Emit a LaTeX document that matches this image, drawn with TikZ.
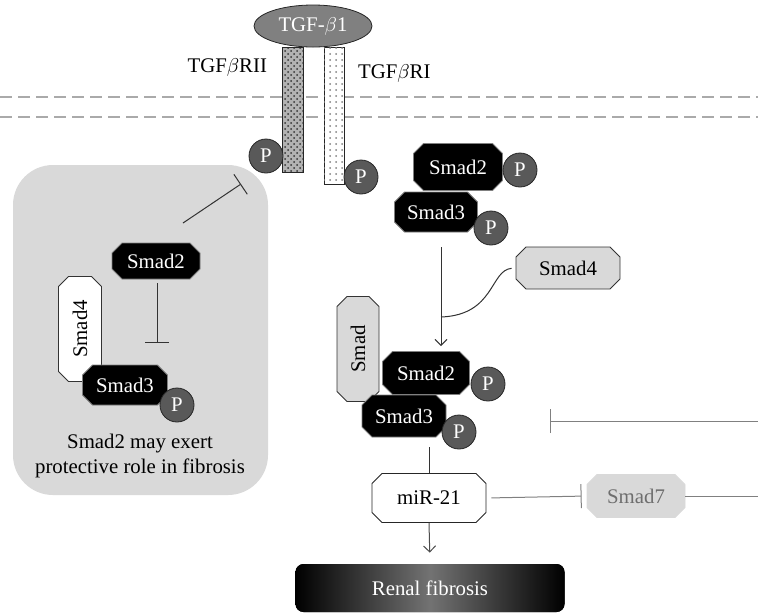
\documentclass[tikz,border=0pt]{standalone}
\usepackage{fontspec}
\setmainfont{Liberation Serif}
\usetikzlibrary{positioning, calc, arrows.meta, shapes.geometric, shapes.misc, patterns}
\definecolor{boxgray}{RGB}{217,217,217}
\definecolor{phosgray}{RGB}{89,89,89}
\definecolor{ligandgray}{RGB}{128,128,128}
\definecolor{dashgray}{RGB}{170,170,170}
\definecolor{fadedtext}{RGB}{110,110,110}
\tikzset{
    smadnode/.style={
        chamfered rectangle, chamfered rectangle xsep=2.5pt, chamfered rectangle ysep=2.5pt,
        chamfered rectangle angle=45, inner sep=0pt, anchor=center
    },
    darksmad/.style={
        smadnode, fill=black, draw=gray, text=white
    },
    lightsmad/.style={
        smadnode, fill=boxgray, draw=black!80
    },
    phos/.style={
        circle, fill=phosgray, draw=black!85, text=white, minimum size=17pt, inner sep=0pt
    },
    link/.style={
        line width=0.5pt, draw=black!80
    }
}

\begin{document}
\begin{tikzpicture}[
        x=0.5pt, y=-0.5pt,
        every node/.style={font=\fontsize{10.4}{12.5}\selectfont},
        % --- STYLE ---
        act/.style={link, -{Straight Barb[length=3pt, width=6pt]}},
        inh/.style={link, -{Bar[width=12pt]}},
        receptor/.style={draw=black!85, line width=0.5pt, inner sep=0pt}
    ]
        \useasboundingbox (0,0) rectangle (758,612);

        % --- 1. MEMBRANE AND RECEPTORS ---
        \draw[dashgray, line width=0.6pt, dash pattern=on 6pt off 3pt] (0,97) -- (758,97);
        \draw[dashgray, line width=0.6pt, dash pattern=on 6pt off 3pt] (0,117) -- (758,117);

        \node[receptor, minimum width=10.5pt, minimum height=62.5pt,
              preaction={fill=gray!60}, pattern=crosshatch dots, pattern color=black!80] (rII) at (292.5,109.5) {};
        \node[receptor, minimum width=10pt, minimum height=68.5pt, fill=white,
              postaction={pattern=dots, pattern color=gray}] (rI) at (334,115.5) {};
        \node[ellipse, fill=ligandgray, draw=black!85, text=white, minimum width=59pt, minimum height=21pt,
              inner sep=0pt] (tgf) at (313,26) {TGF-$\beta$1};

        \node[anchor=east] (lblII) at (274,67) {TGF$\beta$RII};
        \node[anchor=west] (lblI) at (351,73) {TGF$\beta$RI};

        \node[phos] (pII) at (266,156) {P};
        \node[phos] (pI) at (361,177) {P};

        % --- 2. PROTECTIVE BOX ---
        \node[fill=boxgray, rounded corners=20pt, minimum width=127.5pt, minimum height=165pt] (protbox) at (140.5,330) {};

        \node[darksmad, minimum width=44pt, minimum height=18pt] (smadL2) at (156,261) {Smad2};
        \node[smadnode, fill=white, draw=black!80, rotate=90, minimum width=52.5pt, minimum height=21.5pt] (smad4L) at (80,329) {Smad4};
        \node[darksmad, minimum width=42.5pt, minimum height=20pt] (smadL3) at (125,385) {Smad3};
        \node[phos] (pL3) at (177,405) {P};
        \node[align=center] (protext) at (140,456) {Smad2 may exert\\protective role in fibrosis};

        \coordinate (inhS) at (183,223);
        \coordinate (inhE) at (241,184);
        \coordinate (inhL) at (157,343);
        \draw[inh] (inhS) -- (inhE);
        \draw[inh, shorten <=2pt] (smadL2.south -| inhL) -- (inhL);

        % --- 3. SMAD COMPLEX ---
        \node[darksmad, minimum width=44.5pt, minimum height=23.5pt] (smadR2) at (458,167) {Smad2};
        \node[phos] (pR2) at (520,170) {P};
        \node[darksmad, minimum width=41.5pt, minimum height=20pt] (smadR3) at (436,212) {Smad3};
        \node[phos] (pR3) at (491,228) {P};

        \node[lightsmad, minimum width=52pt, minimum height=21pt] (smad4R) at (568,268) {Smad4};

        \node[lightsmad, rotate=90, minimum width=52.5pt, minimum height=21pt] (smadV) at (358,349) {Smad};
        \node[darksmad, minimum width=43.5pt, minimum height=21.5pt] (smadM2) at (426,373) {Smad2};
        \node[phos] (pM2) at (488,384) {P};
        \node[darksmad, minimum width=42pt, minimum height=21pt] (smadM3) at (404,416) {Smad3};
        \node[phos] (pM3) at (459,432) {P};

        \coordinate (jn) at (441,317);
        \draw[act, shorten <=7.5pt, shorten >=2.5pt] (jn |- smadR3.south) -- (jn |- smadM2.north);
        \draw[link, shorten <=2pt] (smad4R.west) .. controls (490,270) and (495,315) .. (jn);

        % --- 4. MIR-21 AND SMAD7 ---
        \node[smadnode, fill=white, draw=black!85, minimum width=57pt, minimum height=24.5pt] (mir) at (429,498) {miR-21};
        \node[smadnode, fill=boxgray, draw=boxgray, text=fadedtext, minimum width=49pt, minimum height=21.5pt] (smad7) at (636,496) {Smad7};
        \node[fill=black, rounded corners=4pt, left color=black, right color=black, middle color=black!55,
              text=white, minimum width=134.5pt, minimum height=24pt] (renal) at (430,588) {Renal fibrosis};

        \coordinate (edgeR) at (758,421);
        \coordinate (barR) at (550,421);
        \coordinate (edgeR7) at (758,496);

        \draw[link] (mir.north) -- ($(mir.north |- smadM3.south)+(0,10)$);
        \draw[inh, draw=gray, shorten <=2.5pt, shorten >=2.5pt] (mir.east) -- (smad7.west);
        \draw[link, draw=gray] (smad7.east) -- (edgeR7);
        \draw[inh, draw=gray] (edgeR) -- (barR);
        \draw[act, draw=black!70, shorten >=5.5pt] (mir.south) -- (renal.north);

    \end{tikzpicture}
\end{document}
